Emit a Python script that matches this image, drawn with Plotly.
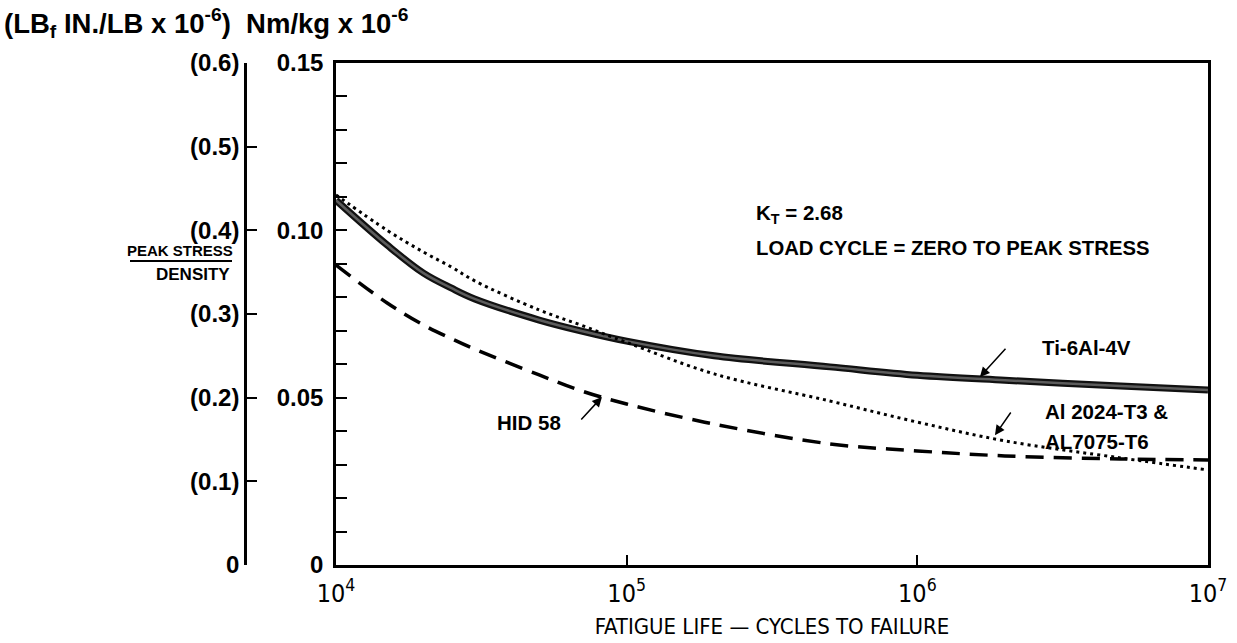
import plotly.graph_objects as go

# ---- data ----
cycles = [1e4, 1.5e4, 2e4, 2.5e4, 3e4, 5e4, 7e4, 1e5, 2e5, 5e5, 1e6, 2e6, 5e6, 1e7]
ti_6al_4v = [0.109, 0.0956, 0.0872, 0.0827, 0.0795, 0.0732, 0.0699, 0.0669, 0.0625, 0.0592, 0.0567, 0.0552, 0.0535, 0.0523]
al_2024_7075 = [0.1106, 0.1000, 0.0935, 0.0890, 0.0849, 0.0762, 0.0716, 0.0665, 0.0571, 0.0490, 0.0427, 0.0371, 0.0320, 0.0284]
hid_58 = [0.0896, 0.0783, 0.0717, 0.0676, 0.0645, 0.0568, 0.0520, 0.0481, 0.0421, 0.0362, 0.0341, 0.0326, 0.0317, 0.0314]

x_tickvals = [1e4, 1e5, 1e6, 1e7]
x_ticktext = ["10<sup>4</sup>", "10<sup>5</sup>", "10<sup>6</sup>", "10<sup>7</sup>"]
si_tickvals = [0, 0.05, 0.10, 0.15]
si_ticktext = ["0", "0.05", "0.10", "0.15"]
us_tickvals = [0, 0.1, 0.2, 0.3, 0.4, 0.5, 0.6]
us_ticktext = ["0", "(0.1)", "(0.2)", "(0.3)", "(0.4)", "(0.5)", "(0.6)"]

FONT = "Liberation Sans, Arial, sans-serif"
NARROW = "Liberation Sans Narrow, Arial Narrow, DejaVu Sans Condensed, sans-serif"

W, H = 1237, 643
ML, MR, MT, MB = 200, 29, 63, 78
PLOT_W = W - ML - MR
PLOT_H = H - MT - MB
AX_LEFT_PX = 336
OUTER_AX_PX = 245


def px_x(p):
    return (p - ML) / PLOT_W


def px_y(p):
    return (H - MB - p) / PLOT_H


fig = go.Figure()

fig.add_trace(go.Scatter(x=cycles, y=ti_6al_4v, mode="lines",
                         line=dict(color="#111111", width=7, shape="spline", smoothing=1.0),
                         hoverinfo="skip", showlegend=False))
fig.add_trace(go.Scatter(x=cycles, y=ti_6al_4v, mode="lines",
                         line=dict(color="#5c5c5c", width=2.5, shape="spline", smoothing=1.0),
                         name="Ti-6Al-4V", showlegend=False))
fig.add_trace(go.Scatter(x=cycles, y=al_2024_7075, mode="lines",
                         line=dict(color="black", width=3, dash="3px,4px", shape="spline", smoothing=1.0),
                         name="Al 2024-T3 & AL7075-T6", showlegend=False))
fig.add_trace(go.Scatter(x=cycles, y=hid_58, mode="lines",
                         line=dict(color="black", width=3.5, dash="18px,10px", shape="spline", smoothing=1.0),
                         name="HID 58", showlegend=False))
# invisible trace to activate the outer (US units) axis
fig.add_trace(go.Scatter(x=[None], y=[None], yaxis="y2", showlegend=False, hoverinfo="skip"))

fig.update_layout(
    width=W, height=H,
    margin=dict(l=ML, r=MR, t=MT, b=MB, autoexpand=False),
    paper_bgcolor="white", plot_bgcolor="white",
    font=dict(family=FONT, color="black"),
    xaxis=dict(
        type="log", range=[4, 7], domain=[px_x(AX_LEFT_PX), 1],
        tickvals=x_tickvals, ticktext=x_ticktext,
        ticks="inside", ticklen=10, tickwidth=2, tickcolor="black",
        showline=True, linewidth=2.5, linecolor="black", mirror=True,
        showgrid=False, zeroline=False, automargin=False,
        tickfont=dict(family=NARROW, size=25),
        ticklabelstandoff=4,
        title=dict(text="FATIGUE LIFE — CYCLES TO FAILURE",
                   font=dict(family=NARROW, size=22), standoff=12),
    ),
    yaxis=dict(
        range=[0, 0.15], anchor="x", automargin=False,
        tickvals=si_tickvals, ticktext=["<b>%s</b>" % t for t in si_ticktext],
        ticks="inside", ticklen=11, tickwidth=1.5, tickcolor="black",
        minor=dict(dtick=0.01, tick0=0, ticks="inside", ticklen=11, tickwidth=1.5, tickcolor="black"),
        showline=True, linewidth=2.5, linecolor="black", mirror=True,
        showgrid=False, zeroline=False,
        tickfont=dict(family=FONT, size=24),
        ticklabelstandoff=5,
    ),
    yaxis2=dict(
        range=[0, 0.6], overlaying="y", side="left", anchor="free", automargin=False,
        position=px_x(OUTER_AX_PX),
        tickvals=us_tickvals, ticktext=["<b>%s</b>" % t for t in us_ticktext],
        ticks="inside", ticklen=10, tickwidth=1.5, tickcolor="black",
        showline=True, linewidth=2.5, linecolor="black",
        showgrid=False, zeroline=False,
        tickfont=dict(family=FONT, size=24),
        ticklabelstandoff=0,
    ),
)

LBL = 20.5
ann = []
# header units
ann.append(dict(text="<b>(LB<sub>f</sub> IN./LB x 10<sup>-6</sup>)&nbsp;&nbsp;Nm/kg x 10<sup>-6</sup></b>",
                xref="paper", yref="paper", x=px_x(2), y=px_y(23),
                xanchor="left", yanchor="middle", showarrow=False, font=dict(size=27.5)))
# y title
ann.append(dict(text="<b>PEAK STRESS</b>", xref="paper", yref="paper", x=px_x(180), y=px_y(250),
                xanchor="center", yanchor="middle", showarrow=False, font=dict(size=15)))
ann.append(dict(text="<b>DENSITY</b>", xref="paper", yref="paper", x=px_x(193), y=px_y(274),
                xanchor="center", yanchor="middle", showarrow=False, font=dict(size=17)))
# notes
ann.append(dict(text="<b>K<sub>T</sub> = 2.68</b>", xref="paper", yref="paper", x=px_x(754), y=px_y(214),
                xanchor="left", yanchor="middle", showarrow=False, font=dict(size=LBL)))
ann.append(dict(text="<b>LOAD CYCLE = ZERO TO PEAK STRESS</b>", xref="paper", yref="paper",
                x=px_x(754), y=px_y(248), xanchor="left", yanchor="middle", showarrow=False,
                font=dict(size=20.3)))
# curve labels
ann.append(dict(text="<b>Ti-6Al-4V</b>", xref="x", yref="y", x=6.421, y=0.0651,
                xanchor="left", yanchor="middle", showarrow=False, font=dict(size=LBL)))
ann.append(dict(text="<b>Al 2024-T3 &amp;</b>", xref="x", yref="y", x=6.432, y=0.0460,
                xanchor="left", yanchor="middle", showarrow=False, font=dict(size=LBL)))
ann.append(dict(text="<b>AL7075-T6</b>", xref="x", yref="y", x=6.432, y=0.03705,
                xanchor="left", yanchor="middle", showarrow=False, font=dict(size=LBL)))
ann.append(dict(text="<b>HID 58</b>", xref="x", yref="y", x=4.780, y=0.0427,
                xanchor="right", yanchor="middle", showarrow=False, font=dict(size=LBL)))
# leader arrows (diagonal part, ending on the curve)
arrow_common = dict(xref="x", yref="y", axref="x", ayref="y", text="", showarrow=True,
                    arrowhead=2, arrowsize=1.3, arrowwidth=1.5, arrowcolor="black")
ann.append(dict(x=6.2153, y=0.0562, ax=6.308, ay=0.0651, **arrow_common))
ann.append(dict(x=6.267, y=0.0388, ax=6.325, ay=0.0460, **arrow_common))
ann.append(dict(x=4.915, y=0.0502, ax=4.839, ay=0.0430, **arrow_common))
fig.update_layout(annotations=ann)

shapes = []
# horizontal parts of leaders
shapes.append(dict(type="line", xref="x", yref="y", x0=6.308, x1=6.362, y0=0.0651, y1=0.0651,
                   line=dict(color="black", width=1.5)))
shapes.append(dict(type="line", xref="x", yref="y", x0=6.325, x1=6.389, y0=0.0460, y1=0.0460,
                   line=dict(color="black", width=1.5)))
shapes.append(dict(type="line", xref="x", yref="y", x0=4.805, x1=4.839, y0=0.0430, y1=0.0430,
                   line=dict(color="black", width=1.5)))
# fraction bar of the y title
shapes.append(dict(type="line", xref="paper", yref="paper", x0=px_x(130), x1=px_x(232),
                   y0=px_y(261), y1=px_y(261), line=dict(color="black", width=2)))
fig.update_layout(shapes=shapes)

fig.write_html("out.html", config={"displayModeBar": False},
               post_script="document.body.style.margin='0';")
